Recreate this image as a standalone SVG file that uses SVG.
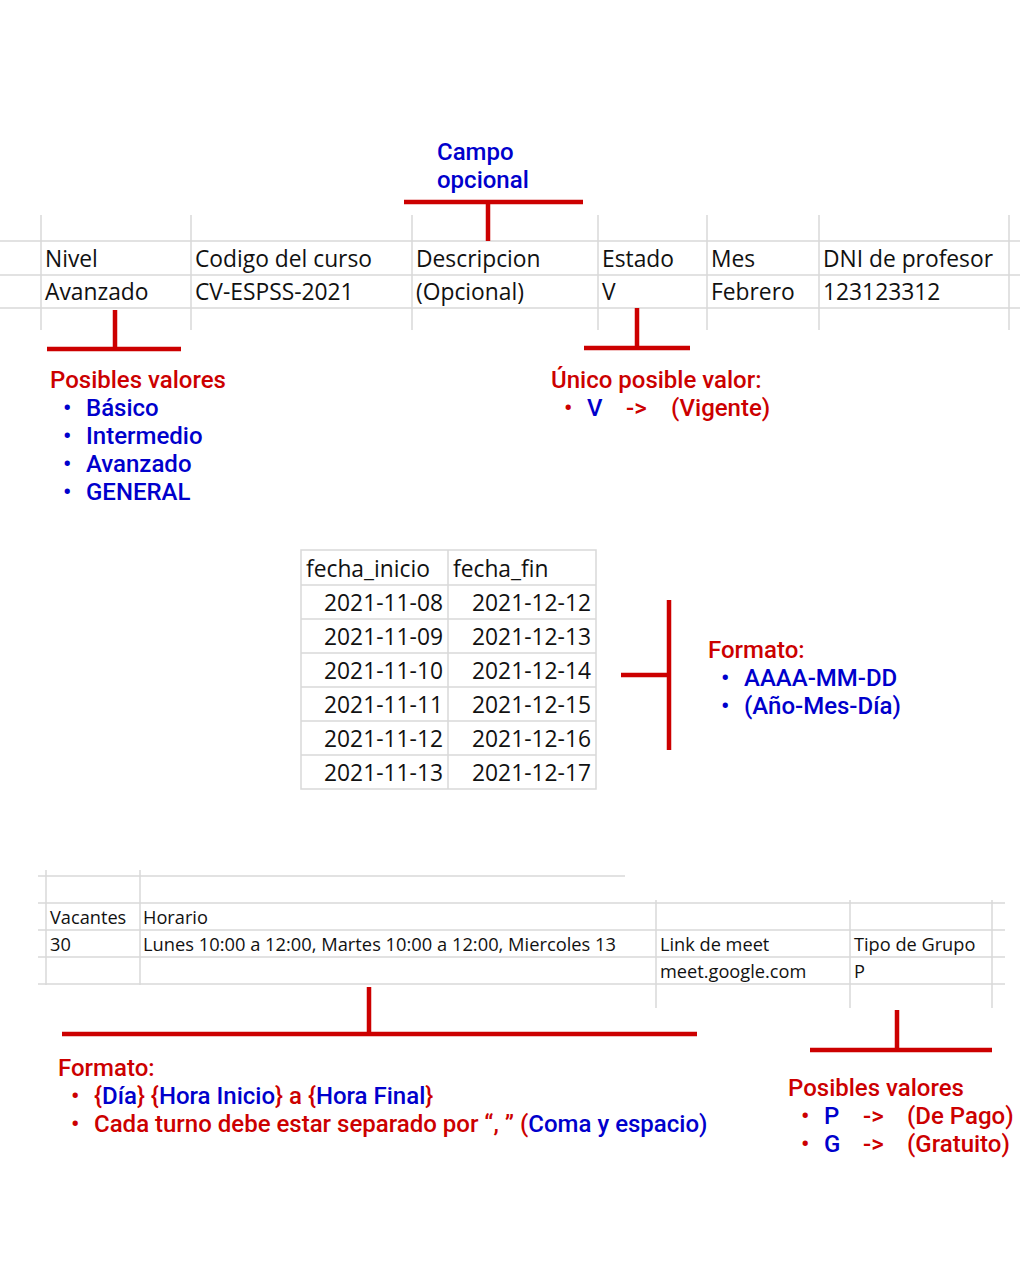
<svg xmlns="http://www.w3.org/2000/svg" width="1020" height="1275" viewBox="0 0 1020 1275">
  <style>
    .grid { stroke: #d9d9d9; stroke-width: 1.5; fill: none; }
    .cell { font-family: "Open Sans", "Liberation Sans", sans-serif; font-size: 22.8px; fill: #111; }
    .cell-sm { font-family: "Open Sans", "Liberation Sans", sans-serif; font-size: 18.2px; fill: #111; }
    .num { text-anchor: end; }
    .note { font-family: Roboto, "Liberation Sans", sans-serif; font-size: 24px; font-weight: 500; }
    .red { fill: #cc0000; }
    .blue { fill: #0000cc; }
    .bracket { stroke: #cc0000; stroke-width: 4.5; fill: none; }
  </style>
  <rect width="1020" height="1275" fill="#ffffff"/>

  <!-- Course header table -->
  <g id="course-table">
    <path class="grid" d="M0 241H1020M0 275H1020M0 308H1020M41 215V330M191 215V330M412 215V330M598 215V330M707 215V330M819 215V330M1009 215V330"/>
    <text class="cell" x="45" y="267">Nivel</text>
    <text class="cell" x="195" y="267">Codigo del curso</text>
    <text class="cell" x="416" y="267">Descripcion</text>
    <text class="cell" x="602" y="267">Estado</text>
    <text class="cell" x="711" y="267">Mes</text>
    <text class="cell" x="823" y="267">DNI de profesor</text>
    <text class="cell" x="45" y="300">Avanzado</text>
    <text class="cell" x="195" y="300">CV-ESPSS-2021</text>
    <text class="cell" x="416" y="300">(Opcional)</text>
    <text class="cell" x="602" y="300">V</text>
    <text class="cell" x="711" y="300">Febrero</text>
    <text class="cell" x="823" y="300">123123312</text>
  </g>

  <!-- Date table -->
  <g id="dates-table">
    <rect class="grid" x="301" y="550" width="295" height="239"/>
    <path class="grid" d="M448 550V789M301 585H596M301 619H596M301 653H596M301 687H596M301 721H596M301 755H596"/>
    <text class="cell" x="306" y="577">fecha_inicio</text>
    <text class="cell" x="453" y="577">fecha_fin</text>
    <text class="cell num" x="443" y="611">2021-11-08</text>
    <text class="cell num" x="591" y="611">2021-12-12</text>
    <text class="cell num" x="443" y="645">2021-11-09</text>
    <text class="cell num" x="591" y="645">2021-12-13</text>
    <text class="cell num" x="443" y="679">2021-11-10</text>
    <text class="cell num" x="591" y="679">2021-12-14</text>
    <text class="cell num" x="443" y="713">2021-11-11</text>
    <text class="cell num" x="591" y="713">2021-12-15</text>
    <text class="cell num" x="443" y="747">2021-11-12</text>
    <text class="cell num" x="591" y="747">2021-12-16</text>
    <text class="cell num" x="443" y="781">2021-11-13</text>
    <text class="cell num" x="591" y="781">2021-12-17</text>
  </g>

  <!-- Group table -->
  <g id="group-table">
    <path class="grid" d="M38 876H625M38 903H1005M38 930H1005M38 957H1005M38 984H1005M46 870V985M140 870V985M656 900V1008M850 900V1008M992 900V1008"/>
    <text class="cell-sm" x="50" y="924">Vacantes</text>
    <text class="cell-sm" x="143" y="924">Horario</text>
    <text class="cell-sm" x="50" y="951">30</text>
    <text class="cell-sm" x="143" y="951" textLength="473" lengthAdjust="spacingAndGlyphs">Lunes 10:00 a 12:00, Martes 10:00 a 12:00, Miercoles 13</text>
    <text class="cell-sm" x="660" y="951">Link de meet</text>
    <text class="cell-sm" x="854" y="951">Tipo de Grupo</text>
    <text class="cell-sm" x="660" y="978">meet.google.com</text>
    <text class="cell-sm" x="854" y="978">P</text>
  </g>

  <!-- Red bracket connectors -->
  <g id="connectors">
    <path class="bracket" d="M404 202H583M488 202V241"/>
    <path class="bracket" d="M115 310V349M47 349H181"/>
    <path class="bracket" d="M637 308V348M584 348H690"/>
    <path class="bracket" d="M669 600V750M621 675H669"/>
    <path class="bracket" d="M369 987V1034M62 1034H697"/>
    <path class="bracket" d="M897 1010V1050M810 1050H992"/>
  </g>

  <!-- Annotations -->
  <g id="note-opcional" class="note blue">
    <text x="437" y="160">Campo</text>
    <text x="437" y="188">opcional</text>
  </g>

  <g id="note-nivel" class="note">
    <text class="red" x="50" y="388">Posibles valores</text>
    <text class="blue" x="63" y="416">•</text><text class="blue" x="86" y="416">Básico</text>
    <text class="blue" x="63" y="444">•</text><text class="blue" x="86" y="444">Intermedio</text>
    <text class="blue" x="63" y="472">•</text><text class="blue" x="86" y="472">Avanzado</text>
    <text class="blue" x="63" y="500">•</text><text class="blue" x="86" y="500">GENERAL</text>
  </g>

  <g id="note-estado" class="note">
    <text class="red" x="551" y="388">Único posible valor:</text>
    <text class="red" x="564" y="416">•</text>
    <text class="blue" x="587" y="416">V</text>
    <text class="red" x="626" y="416">-&gt;</text>
    <text class="red" x="671" y="416">(Vigente)</text>
  </g>

  <g id="note-fechas" class="note">
    <text class="red" x="708" y="658">Formato:</text>
    <text class="blue" x="721" y="686">•</text><text class="blue" x="744" y="686">AAAA-MM-DD</text>
    <text class="blue" x="721" y="714">•</text><text class="blue" x="744" y="714">(Año-Mes-Día)</text>
  </g>

  <g id="note-horario" class="note">
    <text class="red" x="58" y="1076">Formato:</text>
    <text class="red" x="71" y="1104">•</text>
    <text x="94" y="1104"><tspan class="red">{</tspan><tspan class="blue">Día</tspan><tspan class="red">} {</tspan><tspan class="blue">Hora Inicio</tspan><tspan class="red">} a {</tspan><tspan class="blue">Hora Final</tspan><tspan class="red">}</tspan></text>
    <text class="red" x="71" y="1132">•</text>
    <text x="94" y="1132"><tspan class="red">Cada turno debe estar separado por “, ” (</tspan><tspan class="blue">Coma y espacio)</tspan></text>
  </g>

  <g id="note-tipo" class="note">
    <text class="red" x="788" y="1096">Posibles valores</text>
    <text class="red" x="801" y="1124">•</text>
    <text class="blue" x="824" y="1124">P</text>
    <text class="red" x="863" y="1124">-&gt;</text>
    <text class="red" x="907" y="1124">(De Pago)</text>
    <text class="red" x="801" y="1152">•</text>
    <text class="blue" x="824" y="1152">G</text>
    <text class="red" x="863" y="1152">-&gt;</text>
    <text class="red" x="907" y="1152">(Gratuito)</text>
  </g>
</svg>
